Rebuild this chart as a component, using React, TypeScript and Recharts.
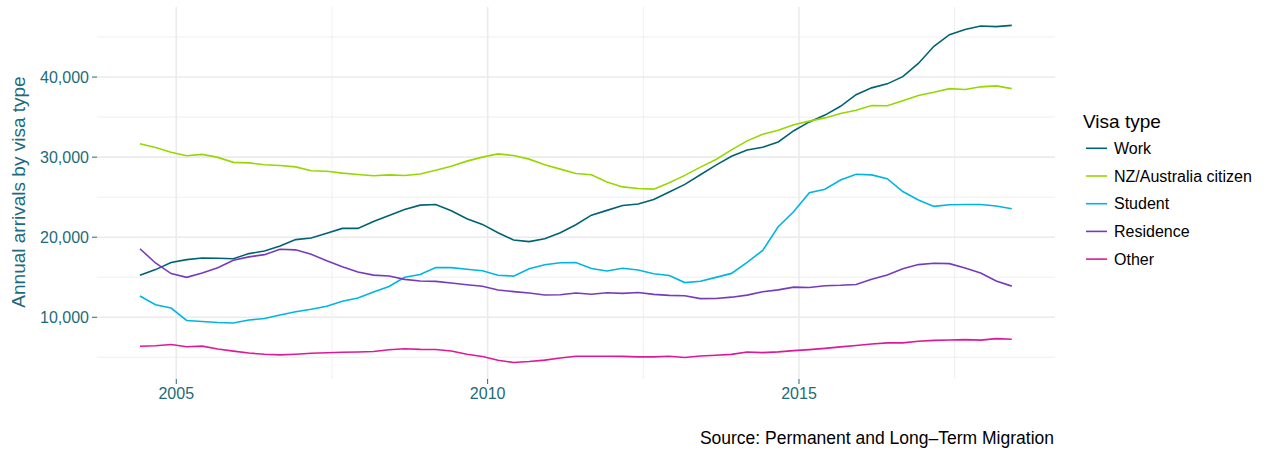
import React from 'react';
import { LineChart, Line, XAxis, YAxis, ReferenceLine } from 'recharts';

const quarters = [
  '2004-06', '2004-09', '2004-12',
  '2005-03', '2005-06', '2005-09', '2005-12',
  '2006-03', '2006-06', '2006-09', '2006-12',
  '2007-03', '2007-06', '2007-09', '2007-12',
  '2008-03', '2008-06', '2008-09', '2008-12',
  '2009-03', '2009-06', '2009-09', '2009-12',
  '2010-03', '2010-06', '2010-09', '2010-12',
  '2011-03', '2011-06', '2011-09', '2011-12',
  '2012-03', '2012-06', '2012-09', '2012-12',
  '2013-03', '2013-06', '2013-09', '2013-12',
  '2014-03', '2014-06', '2014-09', '2014-12',
  '2015-03', '2015-06', '2015-09', '2015-12',
  '2016-03', '2016-06', '2016-09', '2016-12',
  '2017-03', '2017-06', '2017-09', '2017-12',
  '2018-03', '2018-06',
];

const work = [
  15240, 15950, 16850, 17200, 17400, 17380, 17300, 17950, 18270, 18900,
  19700, 19900, 20500, 21100, 21100, 21950, 22700, 23450, 24000, 24080,
  23300, 22300, 21600, 20550, 19650, 19450, 19800, 20550, 21550, 22750,
  23350, 23950, 24150, 24700, 25650, 26600, 27800, 29000, 30100, 30880,
  31240, 31900, 33300, 34400, 35250, 36350, 37800, 38650, 39150, 40050,
  41700, 43850, 45300, 45950, 46380, 46300, 46450,
];

const nzAus = [
  31660, 31200, 30600, 30180, 30340, 29970, 29350, 29280, 29050, 28950,
  28780, 28300, 28240, 28000, 27830, 27680, 27780, 27700, 27900, 28350,
  28850, 29500, 30000, 30400, 30200, 29750, 29050, 28500, 27950, 27800,
  26900, 26280, 26090, 26000, 26800, 27720, 28750, 29700, 30900, 32030,
  32850, 33350, 34050, 34500, 34900, 35450, 35850, 36440, 36420, 37050,
  37700, 38100, 38550, 38450, 38780, 38900, 38560,
];

const student = [
  12650, 11560, 11150, 9600, 9480, 9340, 9280, 9650, 9850, 10280,
  10680, 11000, 11380, 12000, 12400, 13150, 13850, 15000, 15350, 16200,
  16200, 16000, 15800, 15250, 15140, 16050, 16550, 16800, 16840, 16100,
  15780, 16130, 15900, 15430, 15220, 14330, 14500, 14980, 15480, 16850,
  18350, 21300, 23200, 25550, 26000, 27150, 27870, 27780, 27300, 25700,
  24650, 23850, 24050, 24090, 24080, 23900, 23550,
];

const residence = [
  18560, 16780, 15450, 14990, 15520, 16180, 17130, 17540, 17820, 18500,
  18420, 17860, 17050, 16300, 15650, 15260, 15160, 14730, 14530, 14480,
  14280, 14060, 13870, 13410, 13200, 13030, 12780, 12810, 13030, 12880,
  13060, 12990, 13100, 12860, 12730, 12690, 12330, 12350, 12510, 12770,
  13190, 13420, 13760, 13710, 13930, 13990, 14100, 14740, 15280, 16070,
  16580, 16750, 16700, 16150, 15530, 14530, 13890,
];

const other = [
  6380, 6450, 6590, 6310, 6400, 6040, 5770, 5530, 5380, 5300,
  5380, 5500, 5560, 5630, 5670, 5730, 5950, 6070, 5990, 5970,
  5780, 5380, 5090, 4640, 4350, 4470, 4650, 4910, 5130, 5140,
  5140, 5120, 5050, 5050, 5130, 4980, 5170, 5250, 5370, 5670,
  5580, 5680, 5830, 5960, 6120, 6300, 6480, 6670, 6800, 6800,
  7010, 7110, 7170, 7210, 7150, 7330, 7260,
];

const seriesNames = ['Work', 'NZ/Australia citizen', 'Student', 'Residence', 'Other'];
const seriesKeys = ['work', 'nzAus', 'student', 'residence', 'other'];
const seriesColors = ['#006272', '#97D700', '#00B5E2', '#753BBD', '#DF1995'];

const xTicks = [2005, 2010, 2015];
const xMinor = [2007.5, 2012.5, 2017.5];
const yTicks = [10000, 20000, 30000, 40000];
const yMinor = [5000, 15000, 25000, 35000, 45000];

const toYear = (q: string) => {
  const [y, m] = q.split('-').map(Number);
  return y + (m - 1) / 12;
};

const data = quarters.map((q, i) => ({
  t: toYear(q),
  work: work[i],
  nzAus: nzAus[i],
  student: student[i],
  residence: residence[i],
  other: other[i],
}));

const TEAL = '#1D6B7A';
const FONT = '"Liberation Sans", Arial, Helvetica, sans-serif';
const GRID = '#EBEBEB';

export default function App() {
  return (
    <div style={{ position: 'absolute', left: 0, top: 0, width: 1267, height: 452, background: '#fff', fontFamily: FONT }}>
      <LineChart
        width={1267}
        height={452}
        data={data}
        margin={{ top: 7, right: 212, bottom: 43, left: 0 }}
        style={{ fontFamily: FONT }}
      >
        {xMinor.map((v) => (
          <ReferenceLine key={'xm' + v} x={v} stroke={GRID} strokeWidth={0.8} />
        ))}
        {yMinor.map((v) => (
          <ReferenceLine key={'ym' + v} y={v} stroke={GRID} strokeWidth={0.8} />
        ))}
        {xTicks.map((v) => (
          <ReferenceLine key={'xM' + v} x={v} stroke={GRID} strokeWidth={1.6} />
        ))}
        {yTicks.map((v) => (
          <ReferenceLine key={'yM' + v} y={v} stroke={GRID} strokeWidth={1.6} />
        ))}
        <XAxis
          type="number"
          dataKey="t"
          domain={[2003.727, 2019.111]}
          ticks={xTicks}
          allowDataOverflow
          axisLine={false}
          tickLine={{ stroke: TEAL, strokeWidth: 1 }}
          tickSize={5}
          tickMargin={4}
          height={30}
          tick={{ fill: TEAL, fontSize: 16, fontFamily: FONT }}
        />
        <YAxis
          type="number"
          domain={[2290, 48750]}
          ticks={yTicks}
          allowDataOverflow
          width={97}
          axisLine={false}
          tickLine={{ stroke: TEAL, strokeWidth: 1 }}
          tickSize={5}
          tickMargin={3}
          tick={{ fill: TEAL, fontSize: 16, fontFamily: FONT }}
          tickFormatter={(v: number) => v.toLocaleString('en-US')}
        />
        {seriesKeys.map((k, i) => (
          <Line
            key={k}
            type="linear"
            dataKey={k}
            name={seriesNames[i]}
            stroke={seriesColors[i]}
            strokeWidth={1.6}
            dot={false}
            activeDot={false}
            isAnimationActive={false}
          />
        ))}
      </LineChart>
      <svg
        width={1267}
        height={452}
        style={{ position: 'absolute', left: 0, top: 0, pointerEvents: 'none', fontFamily: FONT }}
      >
        <text
          x={25}
          y={192}
          transform="rotate(-90 25 192)"
          textAnchor="middle"
          fontSize={19}
          fill={TEAL}
        >
          Annual arrivals by visa type
        </text>
        <text x={1083} y={128} fontSize={19} fill="#000">
          Visa type
        </text>
        {seriesNames.map((n, i) => {
          const cy = 148.3 + i * 27.7;
          return (
            <g key={n}>
              <line x1={1086} x2={1107} y1={cy} y2={cy} stroke={seriesColors[i]} strokeWidth={1.6} />
              <text x={1114} y={cy} dy="0.36em" fontSize={16} fill="#000">
                {n}
              </text>
            </g>
          );
        })}
        <text x={1054} y={444} textAnchor="end" fontSize={17.5} fill="#000">
          Source: Permanent and Long–Term Migration
        </text>
      </svg>
    </div>
  );
}
